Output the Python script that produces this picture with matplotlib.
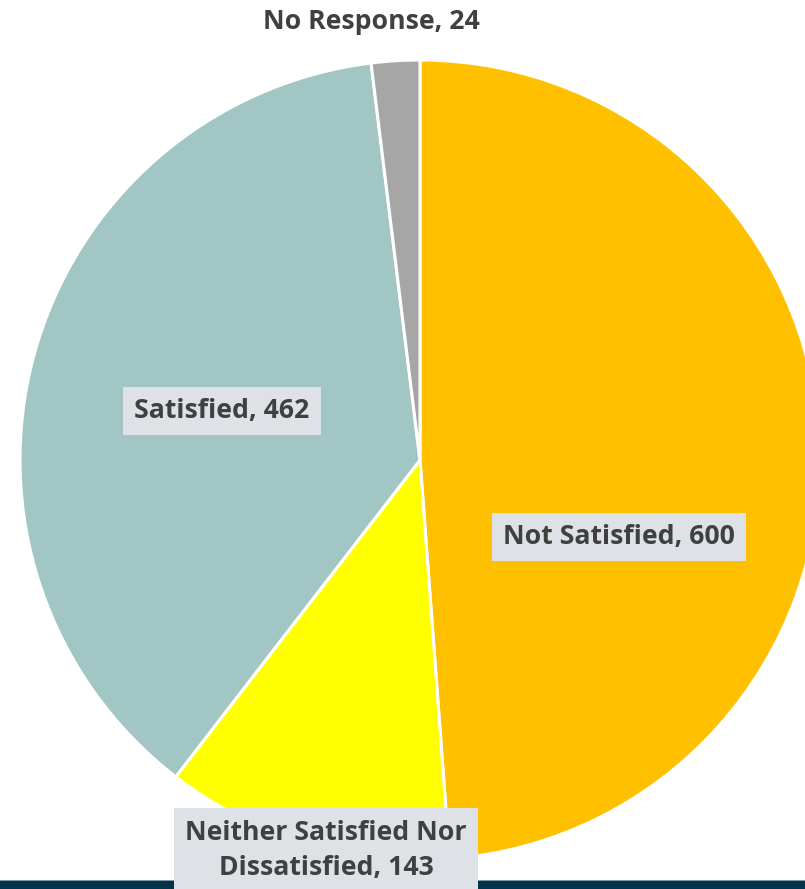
import matplotlib.pyplot as plt
from matplotlib.patches import Rectangle

# Survey responses
categories = ['Not Satisfied', 'Neither Satisfied Nor\nDissatisfied', 'Satisfied', 'No Response']
counts = [600, 143, 462, 24]
colors = ['#FFC000', '#FFFF00', '#A2C6C3', '#A6A6A6']

W, H = 805, 889
fig = plt.figure(figsize=(W / 100, H / 100), dpi=100)
ax = fig.add_axes([0, 0, 1, 1])

# pie drawn in pixel coordinates (y up)
ax.pie(counts, colors=colors, startangle=90, counterclock=False,
       center=(420, H - 460), radius=400,
       wedgeprops=dict(edgecolor='white', linewidth=2.2))
ax.set_xlim(0, W)
ax.set_ylim(0, H)
ax.set_aspect('auto')
ax.axis('off')

# dark band along the bottom
ax.add_patch(Rectangle((0, 0), W, 8, facecolor='#04324A', edgecolor='none', zorder=5))
ax.add_patch(Rectangle((0, 8), W, 1.2, facecolor='#7F98A6', edgecolor='none', zorder=5))

font = dict(family='Open Sans', weight='bold', color='#404040', fontsize=19.2)
box = dict(boxstyle='square,pad=0.42', facecolor='#DEE2E6', edgecolor='none')

# label positions (pixel coords, measured from the top)
label_pos = [(619, 537), (326, 850), (222, 411), (371, 22)]
for i, (name, val) in enumerate(zip(categories, counts)):
    x, y = label_pos[i]
    txt = '%s, %d' % (name, val)
    if name == 'No Response':
        ax.text(x, H - y, txt, ha='center', va='center', zorder=6, **font)
    else:
        ax.text(x, H - y, txt, ha='center', va='center', zorder=6,
                linespacing=1.45, bbox=box, **font)

fig.savefig('out.png', dpi=100)
